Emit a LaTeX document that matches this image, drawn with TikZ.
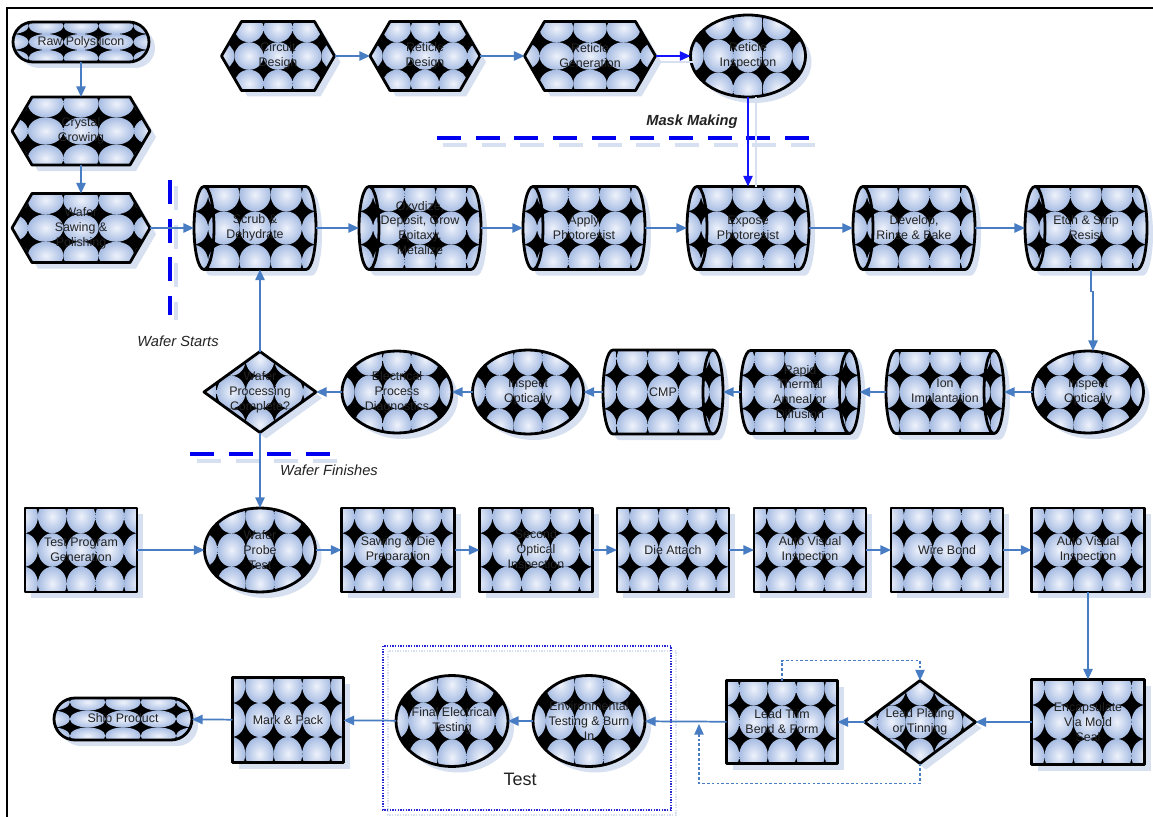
\documentclass[tikz,border=0pt]{standalone}
\usepackage{fontspec}
\setmainfont{Liberation Sans}
\usetikzlibrary{arrows.meta,calc}
\definecolor{patblue}{RGB}{168,189,227}
\definecolor{patlight}{RGB}{238,242,251}
\definecolor{shadowc}{RGB}{214,224,241}
\definecolor{arrc}{RGB}{72,125,195}
\definecolor{brightb}{RGB}{20,20,250}
\definecolor{txtc}{RGB}{35,35,35}
\definecolor{dashb}{RGB}{0,0,240}
\definecolor{boxb}{RGB}{40,40,210}

\newcommand\patgrid{%
  \pgfpointdiff{\pgfpointanchor{path picture bounding box}{south west}}{\pgfpointanchor{path picture bounding box}{north east}}%
  \pgfgetlastxy{\ppw}{\pph}%
  \pgfmathsetmacro\pcw{abs(\ppw)/3.9}%
  \pgfmathsetmacro\pch{abs(\pph)/2.5}%
  \foreach \i in {-2,...,2}{\foreach \j in {-2,...,2}{%
    \shade[inner color=patlight, outer color=patblue] ([shift={(\i*\pcw pt,\j*\pch pt)}]path picture bounding box.center) ellipse[x radius=\pcw pt/2, y radius=\pch pt/2];
  }}%
}

% #1 name, #2 path style, #3 extra path style, #4 cx, #5 cy, #6 w, #7 h, #8 text
\newcommand\flownode[8]{%
  \fill[shadowc, shift={({#4+6},{#5+6})}] (0,0) [#2={#6}{#7}];
  \draw[pat, shift={(#4,#5)}] (0,0) [#2={#6}{#7}];
  \draw[line width=2.1pt, shift={(#4,#5)}] (0,0) [#3={#6}{#7}];
  \node[lbl, minimum width={#6*0.75pt}, minimum height={#7*0.75pt}] (#1) at (#4,#5) {#8};
}

\tikzset{
 hexp/.style 2 args={insert path={(-#1/2,0) -- ({-#1/2+20},{-#2/2}) -- ({#1/2-20},{-#2/2}) -- (#1/2,0) -- ({#1/2-20},{#2/2}) -- ({-#1/2+20},{#2/2}) -- cycle}},
 rectp/.style 2 args={insert path={(-#1/2,-#2/2) rectangle (#1/2,#2/2)}},
 ellp/.style 2 args={insert path={(0,0) ellipse[x radius=#1/2, y radius=#2/2]}},
 diap/.style 2 args={insert path={(-#1/2,0) -- (0,-#2/2) -- (#1/2,0) -- (0,#2/2) -- cycle}},
 stadp/.style 2 args={insert path={({-#1/2+#2/2},{-#2/2}) -- ({#1/2-#2/2},{-#2/2}) arc[start angle=-90,end angle=90,radius=#2/2] -- ({-#1/2+#2/2},{#2/2}) arc[start angle=90,end angle=270,radius=#2/2] -- cycle}},
 cylp/.style 2 args={insert path={({-#1/2+10},{-#2/2}) -- ({#1/2-10},{-#2/2}) arc[start angle=-90,end angle=90,x radius=10,y radius=#2/2] -- ({-#1/2+10},{#2/2}) arc[start angle=90,end angle=270,x radius=10,y radius=#2/2] -- cycle}},
 cylLx/.style 2 args={insert path={({-#1/2+10},{-#2/2}) arc[start angle=-90,end angle=90,x radius=10,y radius=#2/2]}},
 cylRx/.style 2 args={insert path={({#1/2-10},{-#2/2}) arc[start angle=270,end angle=90,x radius=10,y radius=#2/2]}},
 noextra/.style 2 args={},
}

\begin{document}
\begin{tikzpicture}[x=0.75pt,y=-0.75pt,
  pat/.style={fill=black, draw=black, line width=2.1pt, line join=round, path picture={\patgrid}},
  lbl/.style={rectangle, inner sep=0pt, outer sep=0pt, align=center, text=txtc, font=\fontsize{9.3}{11.2}\selectfont},
  conn/.style={draw=arrc, line width=1.3pt, -{Triangle[length=8pt,width=7pt]}},
  bconn/.style={draw=brightb, line width=1.1pt, -{Triangle[length=8pt,width=7pt]}},
  dconn/.style={draw=arrc, line width=1.1pt, dash pattern=on 2pt off 1.6pt, -{Triangle[length=8pt,width=7pt]}},
  dsh/.style={draw=dashb, line width=2.3pt, dash pattern=on 18pt off 11pt},
  dshs/.style={draw=shadowc, line width=2.3pt, dash pattern=on 18pt off 11pt},
  italbl/.style={font=\itshape\fontsize{11}{13}\selectfont, text=txtc},
]
\useasboundingbox (0,0) rectangle (1153,817);
\fill[white] (0,0) rectangle (1153,817);
\draw[line width=2pt] (7,817) -- (7,8) -- (1153,8);

% dashed separators
\draw[dshs] (443,145) -- (816,145);
\draw[dsh] (437,138) -- (810,138);
\draw[dshs] (176,186) -- (176,320);
\draw[dsh] (170,180) -- (170,315);
\draw[dshs] (197,461) -- (337,461);
\draw[dsh] (190,454) -- (330,454);

% test group box
\draw[shadowc, line width=0.8pt, dash pattern=on 1pt off 1pt] (388,651) rectangle (676,815);
\draw[boxb, line width=0.8pt, dash pattern=on 1pt off 1pt] (383,646) rectangle (671,810);

% nodes
\flownode{raw}{stadp}{noextra}{81}{42}{136}{40}{Raw Polysilicon}
\flownode{crystal}{hexp}{noextra}{81}{131}{138}{68}{Crystal\\Growing}
\flownode{wsaw}{hexp}{noextra}{81}{228}{138}{69}{Wafer\\Sawing \&\\Polishing}
\flownode{circuit}{hexp}{noextra}{278}{56}{113}{69}{Circuit\\Design}
\flownode{retdes}{hexp}{noextra}{425}{56}{110}{69}{Reticle\\Design}
\flownode{retgen}{hexp}{noextra}{590}{56}{131}{69}{Reticle\\Generation}
\flownode{retins}{ellp}{noextra}{748}{56}{115}{82}{Reticle\\Inspection}

\flownode{scrub}{cylp}{cylLx}{255}{228}{122}{83}{Scrub \&\\Dehydrate}
\flownode{oxy}{cylp}{cylLx}{420}{228}{122}{83}{Oxydize,\\Deposit, Grow\\Epitaxy,\\Metalize}
\flownode{apply}{cylp}{cylLx}{584}{228}{122}{83}{Apply\\Photoresist}
\flownode{expose}{cylp}{cylLx}{748}{228}{122}{83}{Expose\\Photoresist}
\flownode{develop}{cylp}{cylLx}{914}{228}{122}{83}{Develop,\\Rinse \& Bake}
\flownode{etch}{cylp}{cylLx}{1086}{228}{122}{83}{Etch \& Strip\\Resist}

\flownode{insp1}{ellp}{noextra}{1088}{392}{111}{82}{Inspect\\Optically}
\flownode{ion}{cylp}{cylRx}{945}{392}{118}{83}{Ion\\Implantation}
\flownode{rta}{cylp}{cylRx}{800}{392}{119}{83}{Rapid\\Thermal\\Anneal or\\Diffusion}
\flownode{cmp}{cylp}{cylRx}{663}{392}{120}{84}{CMP}
\flownode{insp2}{ellp}{noextra}{528}{392}{111}{84}{Inspect\\Optically}
\flownode{elec}{ellp}{noextra}{397}{392}{110}{82}{Electrical\\Process\\Diagnostics}
\flownode{wpc}{diap}{noextra}{260}{392}{112}{81}{Wafer\\Processing\\Complete?}

\flownode{testprog}{rectp}{noextra}{81}{550}{112}{84}{Test Program\\Generation}
\flownode{probe}{ellp}{noextra}{260}{550}{111}{84}{Wafer\\Probe\\Test}
\flownode{sawing}{rectp}{noextra}{398}{550}{113}{84}{Sawing \& Die\\Preparation}
\flownode{second}{rectp}{noextra}{536}{550}{113}{84}{Second\\Optical\\Inspection}
\flownode{dieatt}{rectp}{noextra}{673}{550}{112}{84}{Die Attach}
\flownode{auto1}{rectp}{noextra}{810}{550}{112}{84}{Auto Visual\\Inspection}
\flownode{wire}{rectp}{noextra}{947}{550}{112}{84}{Wire Bond}
\flownode{auto2}{rectp}{noextra}{1088}{550}{113}{84}{Auto Visual\\Inspection}

\flownode{encap}{rectp}{noextra}{1088}{722}{113}{85}{Encapsulate\\Via Mold\\Seal}
\flownode{plating}{diap}{noextra}{920}{722}{111}{83}{Lead Plating\\or Tinning}
\flownode{trim}{rectp}{noextra}{782}{722}{111}{83}{Lead Trim\\Bend \& Form}
\flownode{env}{ellp}{noextra}{589}{721}{112}{91}{Environmental\\Testing \& Burn\\In}
\flownode{final}{ellp}{noextra}{452}{721}{112}{91}{Final Electrical\\Testing}
\flownode{mark}{rectp}{noextra}{288}{720}{111}{85}{Mark \& Pack}
\flownode{ship}{stadp}{noextra}{123}{719}{138}{42}{Ship Product}

% labels
\node[font=\bfseries\itshape\fontsize{11}{13}\selectfont, text=txtc] (masklbl) at (692,122) {Mask Making};
\node[italbl] (startlbl) at (178,341) {Wafer Starts};
\node[italbl] (finlbl) at (329,470) {Wafer Finishes};
\node[font=\fontsize{13.5}{15}\selectfont, text=txtc] (testlbl) at (520,779) {Test};

% connectors
\draw[conn] (raw) -- (crystal);
\draw[conn] (crystal) -- (wsaw);
\draw[conn] (wsaw) -- (scrub);
\draw[conn] (circuit) -- (retdes);
\draw[conn] (retdes) -- (retgen);
\draw[shadowc, line width=1.1pt] ($(retgen.east)+(4,6)$) -- ($(retins.west)+(4,6)$);
\draw[bconn] (retgen) -- (retins);
\draw[shadowc, line width=1.1pt] ($(retins.south)+(8,0)$) -- ($(expose.north)+(8,0)$);
\draw[bconn] (retins) -- (expose);
\draw[conn] (scrub) -- (oxy);
\draw[conn] (oxy) -- (apply);
\draw[conn] (apply) -- (expose);
\draw[conn] (expose) -- (develop);
\draw[conn] (develop) -- (etch);
\draw[conn] ($(etch.south)+(5,0)$) -- ++(0,22) -| ($(insp1.north)+(5,0)$);
\draw[conn] (insp1) -- (ion);
\draw[conn] (ion) -- (rta);
\draw[conn] (rta) -- (cmp);
\draw[conn] (cmp) -- (insp2);
\draw[conn] (insp2) -- (elec);
\draw[conn] (elec) -- (wpc);
\draw[conn] (wpc.north) -- (wpc.north |- scrub.south);
\draw[conn] (wpc) -- (probe);
\draw[conn] (testprog) -- (probe);
\draw[conn] (probe) -- (sawing);
\draw[conn] (sawing) -- (second);
\draw[conn] (second) -- (dieatt);
\draw[conn] (dieatt) -- (auto1);
\draw[conn] (auto1) -- (wire);
\draw[conn] (wire) -- (auto2);
\draw[conn] (auto2) -- (encap);
\draw[conn] (encap) -- (plating);
\draw[conn] (plating) -- (trim);
\draw[conn] (trim) -- (env);
\draw[conn] (env) -- (final);
\draw[conn] (final) -- (mark);
\draw[conn] (mark) -- (ship);
\coordinate (tj) at (699,724);
\draw[dconn] (trim.north) -- ++(0,-20) -| (plating.north);
\draw[dconn] (plating.south) -- ++(0,20) -| (tj);
\end{tikzpicture}
\end{document}
